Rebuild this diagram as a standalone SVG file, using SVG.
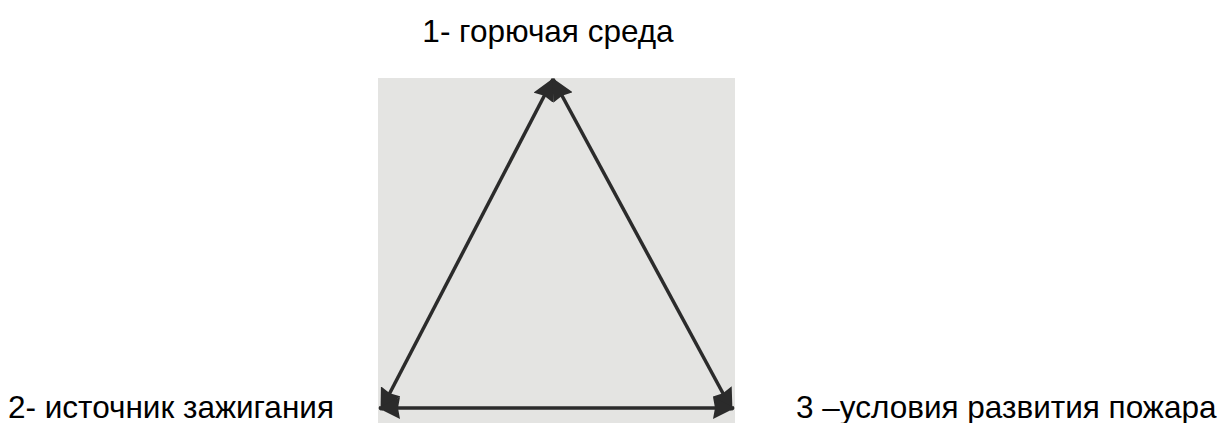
<svg xmlns="http://www.w3.org/2000/svg" width="1225" height="423" viewBox="0 0 1225 423">
<style>
.lbl{font-family:"Liberation Sans",Arial,sans-serif;font-size:31.5px;fill:#000}
.edge{stroke:#2b2b2b;stroke-width:3.5;fill:none}
</style>
<defs>
<marker id="ah" viewBox="0 0 22 22" refX="21" refY="11" markerWidth="22" markerHeight="22" markerUnits="userSpaceOnUse" orient="auto-start-reverse">
<path d="M0,0 L22,11 L0,22 L2,11 z" fill="#2b2b2b"/>
</marker>
</defs>
<rect width="1225" height="423" fill="#fff"/>
<rect id="panel" x="378" y="78" width="357" height="345" fill="#e4e4e2"/>
<g id="node1"><text class="lbl" x="548" y="42" text-anchor="middle">1- горючая среда</text></g>
<g id="node2"><text class="lbl" x="8" y="418">2- источник зажигания</text></g>
<g id="node3"><text class="lbl" x="796" y="418">3 –условия развития пожара</text></g>
<g id="connectors">
<line class="edge" x1="553" y1="79" x2="381" y2="410" marker-start="url(#ah)" marker-end="url(#ah)"/>
<line class="edge" x1="553" y1="79" x2="732" y2="410" marker-start="url(#ah)" marker-end="url(#ah)"/>
<line class="edge" x1="379" y1="408" x2="734" y2="408" marker-start="url(#ah)" marker-end="url(#ah)"/>
</g>
</svg>
